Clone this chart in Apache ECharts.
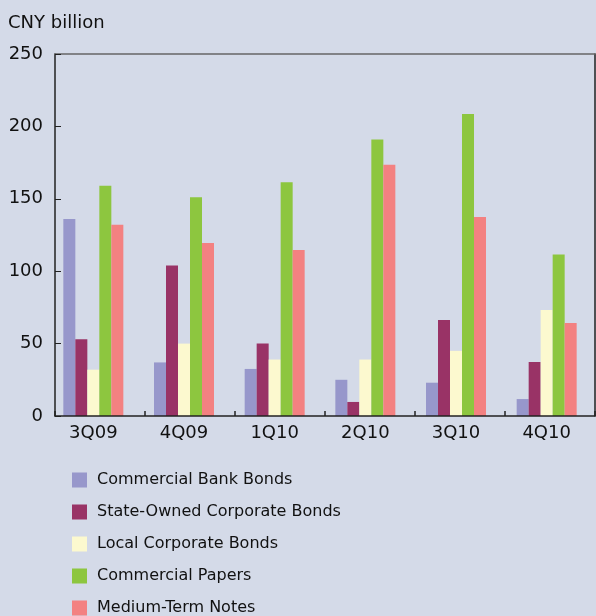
<!DOCTYPE html>
<html>
<head>
<meta charset="utf-8">
<script src="https://cdn.jsdelivr.net/npm/echarts@6/dist/echarts.min.js"></script>
<style>
html,body{margin:0;padding:0;background:#d4dae8;}
#c{width:596px;height:616px;}
</style>
</head>
<body>
<div id="c"></div>
<script>
var categories = ['3Q09', '4Q09', '1Q10', '2Q10', '3Q10', '4Q10'];
var seriesNames = ['Commercial Bank Bonds', 'State-Owned Corporate Bonds', 'Local Corporate Bonds', 'Commercial Papers', 'Medium-Term Notes'];
var commercialBankBonds = [136, 37, 32.5, 25, 23, 11.7];
var stateOwnedCorporateBonds = [53, 104, 50, 9.7, 66.3, 37.3];
var localCorporateBonds = [32, 50, 39, 39, 45, 73.2];
var commercialPapers = [159, 151, 161.5, 191, 208.5, 111.5];
var mediumTermNotes = [132, 119.5, 114.6, 173.5, 137.5, 64.2];
var yTicks = [0, 50, 100, 150, 200, 250];
var colors = ['#9797cb', '#993366', '#fcf9cf', '#8dc63f', '#f38181'];

var values = [commercialBankBonds, stateOwnedCorporateBonds, localCorporateBonds, commercialPapers, mediumTermNotes];
var chart = echarts.init(document.getElementById('c'), null, {renderer: 'canvas'});
var font = 'DejaVu Sans';
chart.setOption({
  backgroundColor: '#d4dae8',
  animation: false,
  textStyle: {fontFamily: font},
  title: {
    text: 'CNY billion', left: 8, top: 14, padding: 0,
    textStyle: {fontFamily: font, fontSize: 18, fontWeight: 'normal', color: '#111'}
  },
  legend: {
    orient: 'vertical', left: 72, top: 472, height: 200, padding: 0,
    itemWidth: 15, itemHeight: 15, itemGap: 16,
    icon: 'rect',
    textStyle: {fontFamily: font, fontSize: 16, color: '#111', padding: [0, 0, 0, 5]},
    data: seriesNames
  },
  grid: [
    {left: 55, right: 1, top: 54, bottom: 200, containLabel: false},
    {left: 48, right: 4, top: 54, bottom: 200, containLabel: false}
  ],
  xAxis: [{
    gridIndex: 0, type: 'category', data: categories, position: 'bottom', z: 5,
    axisLine: {onZero: false, lineStyle: {color: '#222', width: 1.5}},
    axisTick: {show: true, inside: true, length: 5, lineStyle: {color: '#222', width: 1.5}},
    axisLabel: {show: false}
  }, {
    gridIndex: 0, type: 'category', data: categories, position: 'top',
    axisLine: {onZero: false, lineStyle: {color: '#666', width: 1.5}},
    axisTick: {show: false}, axisLabel: {show: false}
  }, {
    gridIndex: 1, type: 'category', data: categories, position: 'bottom',
    axisLine: {show: false, onZero: false},
    axisTick: {show: false},
    axisLabel: {fontFamily: font, fontSize: 18, color: '#111', margin: 8}
  }],
  yAxis: [{
    gridIndex: 0, type: 'value', min: 0, max: 250, interval: 50,
    axisLine: {show: true, lineStyle: {color: '#222', width: 1.5}},
    axisTick: {show: true, inside: true, length: 6, lineStyle: {color: '#222'}},
    axisLabel: {fontFamily: font, fontSize: 18, color: '#111', margin: 12,
      formatter: function (v) { return yTicks.indexOf(v) >= 0 ? String(v) : ''; }},
    splitLine: {show: false}
  }, {
    gridIndex: 0, type: 'value', min: 0, max: 250, interval: 50, position: 'right',
    axisLine: {show: true, lineStyle: {color: '#222', width: 1.5}},
    axisTick: {show: false}, axisLabel: {show: false}, splitLine: {show: false}
  }, {
    gridIndex: 1, type: 'value', min: 0, max: 250, interval: 50,
    axisLine: {show: false}, axisTick: {show: false}, axisLabel: {show: false}, splitLine: {show: false}
  }],
  series: seriesNames.map(function (n, i) {
    return {
      name: n, type: 'bar', data: values[i], barWidth: 12, barGap: '0%',
      xAxisIndex: 2, yAxisIndex: 2,
      itemStyle: {color: colors[i]}
    };
  })
});
</script>
</body>
</html>
